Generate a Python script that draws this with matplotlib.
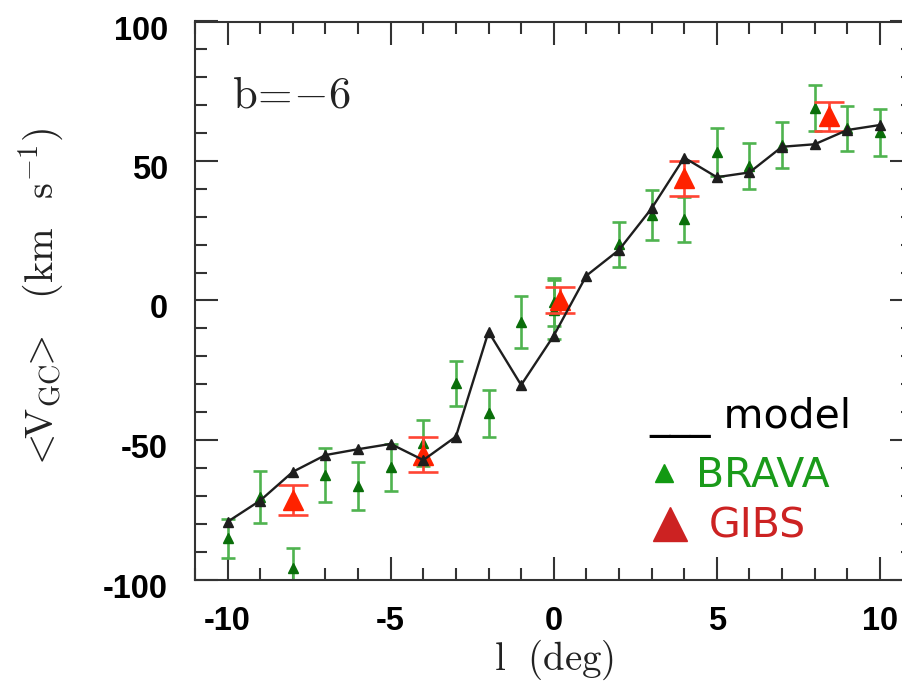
import matplotlib
matplotlib.use("Agg")
import matplotlib.pyplot as plt
import matplotlib.transforms as mtransforms
from matplotlib.ticker import MultipleLocator

# model mean velocity along b = -6
model_l = [-10, -9, -8, -7, -6, -5, -4, -3, -2, -1, 0, 1, 2, 3, 4, 5, 6, 7, 8, 9, 10]
model_v = [-79.3, -71.7, -61.4, -55.4, -53.3, -51.4, -57.2, -48.8, -11.2, -30.3,
           -12.6, 8.9, 18.1, 33.0, 51.2, 44.2, 45.9, 55.1, 56.0, 61.1, 62.9]

# BRAVA fields
brava_l = [-10, -9, -8, -7, -6, -5, -4, -3, -2, -1, 0, 0, 2, 3, 4, 5, 6, 7, 8, 9, 10]
brava_v = [-85.2, -70.3, -95.8, -62.5, -66.5, -59.8, -51.2, -29.7, -40.4, -7.8,
           -0.5, -3.3, 20.1, 30.6, 29.1, 53.3, 48.2, 55.7, 68.9, 61.7, 60.3]
brava_err = [7.0, 9.3, 7.0, 9.6, 8.5, 8.5, 8.2, 8.0, 8.5, 9.4,
             8.5, 10.5, 8.2, 9.0, 8.0, 8.5, 8.3, 8.3, 8.2, 8.0, 8.5]

# GIBS fields
gibs_l = [-8.0, -4.0, 0.2, 4.0, 8.45]
gibs_v = [-71.5, -55.2, 0.3, 43.8, 66.1]
gibs_err = [5.3, 6.2, 4.7, 6.3, 5.2]

plt.rcParams['mathtext.fontset'] = 'cm'
plt.rcParams['axes.unicode_minus'] = False

W, H = 902, 696
fig = plt.figure(figsize=(W / 100, H / 100), dpi=100)
# right edge of the frame runs just past the figure border
ax = fig.add_axes([195 / W, 1 - 579.5 / H, 717.5 / W, 558 / H])

ax.errorbar(brava_l, brava_v, yerr=brava_err, fmt='none', ecolor='#4fb34f',
            elinewidth=1.9, capsize=4.8, capthick=1.9, zorder=2)
ax.plot(brava_l, brava_v, '^', color='#0a6e0a', markersize=7, zorder=3)

ax.errorbar(gibs_l, gibs_v, yerr=gibs_err, fmt='none', ecolor='#ff4433',
            elinewidth=1.9, capsize=11, capthick=1.9, zorder=4)
ax.plot(gibs_l, gibs_v, '^', color='#ff2200', markersize=14, zorder=5)

ax.plot(model_l, model_v, '-^', color='#1e1e1e', lw=1.7, markersize=7, zorder=6)

ax.set_xlim(-11, 11)
ax.set_ylim(-100, 100)
ax.set_xticks([-10, -5, 0, 5, 10])
ax.set_yticks([-100, -50, 0, 50, 100])
ax.xaxis.set_minor_locator(MultipleLocator(1))
ax.yaxis.set_minor_locator(MultipleLocator(10))

for side in ax.spines:
    ax.spines[side].set_linewidth(1.5)
    ax.spines[side].set_color('#333333')
ax.tick_params(which='both', direction='in', top=True, right=True,
               color='#333333', width=1.5)
ax.tick_params(which='major', length=16.5)
ax.tick_params(which='minor', length=8.5)
ax.tick_params(axis='y', which='major', pad=19.5)
ax.tick_params(axis='x', which='major', pad=19)

for lab in ax.get_xticklabels() + ax.get_yticklabels():
    lab.set_fontfamily('Liberation Sans')
    lab.set_fontweight('bold')
    lab.set_fontsize(23.5)

# y labels sit a little below their ticks
shift = mtransforms.ScaledTranslation(0, -0.06, fig.dpi_scale_trans)
for lab in ax.get_yticklabels():
    lab.set_transform(lab.get_transform() + shift)

ax.set_xlabel(r'$\mathrm{l\ \ (deg)}$', fontsize=28, color='#222222')
ax.xaxis.set_label_coords(0.5, -0.105)
ax.set_ylabel(r'$<\!\!\mathrm{V_{GC}}\!\!>\;\;\;(\mathrm{km\;\;\;s^{-1}})$',
              fontsize=29, color='#222222')
ax.yaxis.set_label_coords(-0.178, 0.5)

ax.text(37 / 717.5, 1 - (107 - 21.5) / 558, r'$\mathrm{b}\!=\!{-}6$',
        transform=ax.transAxes, fontsize=32, color='#222222', va='baseline')

# hand-made key
fig.text(649 / W, 1 - 428 / H, '___ model', fontsize=29.5, color='black',
         fontfamily='DejaVu Sans', va='baseline')
fig.text(696 / W, 1 - 487 / H, 'BRAVA', fontsize=29.5, color='#1a9a1a',
         fontfamily='DejaVu Sans', va='baseline')
fig.text(709 / W, 1 - 538 / H, 'GIBS', fontsize=29.5, color='#cc2222',
         fontfamily='DejaVu Sans', va='baseline')
ax.plot([664 / W], [1 - 473 / H], '^', color='#129912', markersize=13,
        transform=fig.transFigure, clip_on=False)
ax.plot([670 / W], [1 - 524 / H], '^', color='#cc2222', markersize=25,
        transform=fig.transFigure, clip_on=False)

plt.savefig('out.png', dpi=100)
